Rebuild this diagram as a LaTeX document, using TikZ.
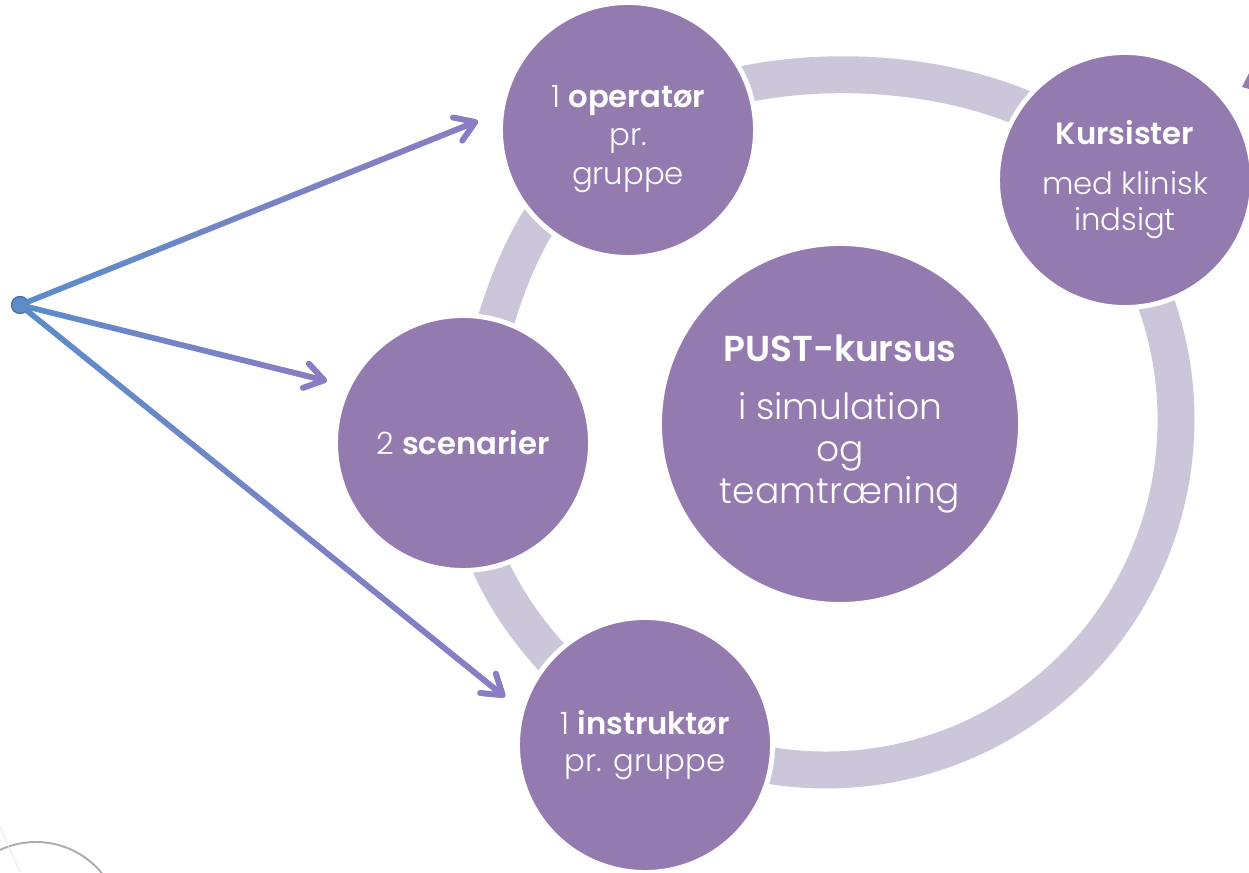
\documentclass[tikz,border=0pt]{standalone}
\usepackage{fontspec}
\setmainfont{Poppins}[UprightFont={* Light}, BoldFont={* SemiBold}]
\usepackage{tikz}
\usetikzlibrary{arrows.meta, positioning, backgrounds, fadings}
\definecolor{bubblepurple}{RGB}{147,123,176}
\definecolor{ringlilac}{RGB}{204,198,218}
\definecolor{arrowblue}{RGB}{92,141,201}
\definecolor{arrowpurple}{RGB}{142,124,195}
\tikzfading[name=fadein, left color=transparent!100, right color=transparent!0]
\tikzset{
    bubble/.style={circle, fill=bubblepurple, draw=white, line width=2.8pt, inner sep=0pt,
        minimum size=5.1cm, align=center, text=white, font=\fontsize{17.5}{21}\selectfont},
    bigbubble/.style={bubble, minimum size=7.22cm, font=\fontsize{20.5}{24}\selectfont},
    bubbletext/.style={align=center, text=white, inner sep=0pt, font=\fontsize{17.5}{21}\selectfont},
    ringarc/.style={ringlilac, line width=21pt},
    feed/.style={-{Straight Barb[length=3.8mm, width=5mm, round]}, line width=3.2pt, line cap=round},
    srcdot/.style={circle, fill=arrowblue, draw=arrowblue!75!black, line width=0.7pt,
        minimum size=0.34cm, inner sep=0pt}
}

\begin{document}
\begin{tikzpicture}
    \useasboundingbox (0,0) rectangle (24.98,17.44);
    \clip (0,0) rectangle (24.98,17.44);
    % leftovers at the edges
    \draw[gray!65, line width=1.1pt] (0.72,-1.10) circle (1.70);
    \draw[gray!20, thin] (0,0.90) -- (0.40,0);
    \fill[bubblepurple] (24.84,15.70) -- (24.98,15.98) -- (24.98,15.66) -- cycle;
    % circles
    \node[bigbubble] (pust) at (16.80,8.96) {\textbf{PUST-kursus}\\[9pt]i simulation\\og\\teamtræning};
    \node[bubble] (ops) at (12.56,14.84) {};
    \node[bubbletext] (opstext) at ([yshift=-0.18cm]ops.center) {1 \textbf{operatør}\\[1pt]pr.\\[1pt]gruppe};
    \node[bubble] (kur) at (22.50,13.84) {\textbf{Kursister}\\[7pt]med klinisk\\indsigt};
    \node[bubble] (scn) at (9.26,8.58) {2 \textbf{scenarier}};
    \node[bubble] (ins) at (12.90,2.54) {1 \textbf{instruktør}\\pr. gruppe};
    % cycle ring
    \coordinate (hub) at (16.52,9.04);
    \begin{scope}[on background layer]
        \draw[ringarc] (scn.center) to[out=75, in=214] (ops.center);
        \draw[ringarc] (ops.center) to[out=34, in=129, looseness=0.8] (kur.center);
        \draw[ringarc] ([shift={(35:7)}]hub) arc[start angle=35, end angle=-118, radius=7];
        \draw[ringarc] (ins.center) to[out=140, in=272] (scn.center);
    \end{scope}
    % source and arrows
    \node[srcdot] (src) at (0.40,11.34) {};
    \coordinate (tA) at (9.56,15.02);
    \coordinate (tB) at (6.54,9.82);
    \coordinate (tC) at (10.10,3.50);
    \foreach \t in {tA,tB,tC}{
        \draw[feed, arrowblue] (src) -- (\t);
        \draw[feed, arrowpurple, path fading=fadein] (src) -- (\t);
    }
\end{tikzpicture}
\end{document}
